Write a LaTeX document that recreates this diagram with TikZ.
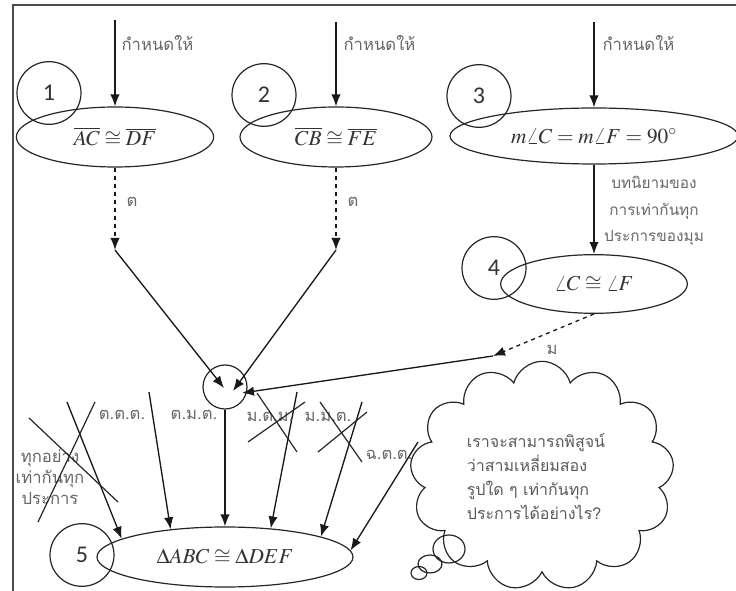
\documentclass[tikz,border=0pt]{standalone}
\usepackage{mathptmx}
\usepackage{fontspec}
\newfontfamily\thaifont[Script=Thai]{Loma}
\newfontfamily\numfont{Carlito}
\usepackage{tikz}
\usetikzlibrary{arrows.meta,shapes.geometric,shapes.symbols}
\tikzstyle{arrow}=[-{Latex[length=9pt,width=7pt]},line width=1pt,draw=black!90]
\tikzstyle{oval}=[draw=black!85,ellipse,line width=.9pt,inner sep=1pt,font=\fontsize{16}{19}\selectfont,text=black!80]
\tikzstyle{numring}=[draw=black!85,ellipse,line width=.9pt,minimum width=48pt,minimum height=47pt,inner sep=0pt,font=\numfont\fontsize{18}{20}\selectfont,text=black!80]
\tikzstyle{thailabel}=[font=\thaifont\fontsize{12.5}{15}\selectfont,text=black!60,inner sep=0pt]
\tikzstyle{cross}=[draw=black!85,line width=.9pt]

\begin{document}
\begin{tikzpicture}[x=.75pt,y=-.75pt,line width=.9pt]
	\useasboundingbox (0,0) rectangle (736,591);

	%frame
	\draw[black!70] (13,591) -- (13,5) -- (736,5);

	%statements
	\node[oval,minimum width=148pt,minimum height=45pt] (e1) at (115,137) {$\overline{AC}\cong\overline{DF}$};
	\node[oval,minimum width=144pt,minimum height=45pt] (e2) at (336,137) {$\overline{CB}\cong\overline{FE}$};
	\node[oval,minimum width=216pt,minimum height=42pt] (e3) at (594,136) {$m\angle C=m\angle F=90^\circ$};
	\node[oval,minimum width=140pt,minimum height=44pt] (e4) at (594,284) {$\angle C\cong\angle F$};
	\node[oval,minimum width=192pt,minimum height=45pt] (e5) at (225,557) {$\Delta ABC\cong\Delta DEF$};

	\node[numring] (n1) at (49,93) {1};
	\node[numring] (n2) at (264,95) {2};
	\node[numring] (n3) at (479,96) {3};
	\node[numring] (n4) at (494,268) {4};
	\node[numring] (n5) at (82,555) {5};
	\node[draw=black!85,circle,minimum size=33pt,inner sep=0pt] (hub) at (225,387) {};

	%given
	\coordinate (g1) at (115,20);
	\coordinate (g2) at (336,22);
	\coordinate (g3) at (594,22);
	\draw[arrow] (g1) -- (e1);
	\draw[arrow] (g2) -- (e2);
	\draw[arrow] (g3) -- (e3);
	\node[thailabel,anchor=west] (l1) at (121,43) {กำหนดให้};
	\node[thailabel,anchor=west] (l2) at (343,43) {กำหนดให้};
	\node[thailabel,anchor=west] (l3) at (602,43) {กำหนดให้};

	\draw[arrow] (e3) -- (e4);
	\node[thailabel,align=center,font=\thaifont\fontsize{11.5}{20}\selectfont] (l4) at (654,211) {บทนิยามของ\\การเท่ากันทุก\\ประการของมุม};

	%to the hub
	\coordinate (d1) at (115,250);
	\coordinate (d2) at (336,250);
	\coordinate (d4) at (493,356);
	\coordinate (h1) at (224,388);
	\coordinate (h2) at (233,391);
	\coordinate (h3) at (242,393);
	\draw[arrow,dashed] (e1) -- (d1);
	\draw[arrow,dashed] (e2) -- (d2);
	\draw[arrow,dashed] (e4.south) -- (d4);
	\draw[arrow] (d1) -- (h1);
	\draw[arrow] (d2) -- (h2);
	\draw[arrow] (d4) -- (h3);
	\node[thailabel] (t1) at (132,202) {ต};
	\node[thailabel] (t2) at (353,202) {ต};
	\node[thailabel] (t4) at (552,350) {ม};

	%conditions
	\coordinate (s1) at (67,402);
	\coordinate (s2) at (149,392);
	\coordinate (s3) at (297,392);
	\coordinate (s4) at (362,402);
	\coordinate (s5) at (418,442);
	\draw[arrow] (s1) -- (e5.170);
	\draw[arrow] (s2) -- (e5.153);
	\draw[arrow] (hub) -- (e5);
	\draw[arrow] (s3) -- (e5.32);
	\draw[arrow] (s4) -- (e5.12);
	\draw[arrow] (s5) -- (e5.3);
	\node[thailabel] (c1) at (122,415) {ต.ต.ต.};
	\node[thailabel] (c2) at (194,415) {ต.ม.ต.};
	\node[thailabel] (c3) at (270,417) {ม.ต.ม.};
	\node[thailabel] (c4) at (328,417) {ม.ม.ต.};
	\node[thailabel] (c5) at (389,455) {ฉ.ต.ต.};
	\node[thailabel,align=center,font=\thaifont\fontsize{12.5}{15.5}\selectfont] (c0) at (50,477) {ทุกอย่าง\\เท่ากันทุก\\ประการ};

	%crossed out
	\draw[cross] (29,418) -- (118,502);
	\draw[cross] (95,402) -- (38,522);
	\draw[cross] (257,393) -- (297,452);
	\draw[cross] (248,442) -- (305,402);
	\draw[cross] (320,402) -- (362,462);
	\draw[cross] (318,452) -- (367,412);

	%thought
	\node[cloud,draw=black!85,cloud puffs=13,aspect=1.15,minimum width=198pt,minimum height=172pt,inner sep=0pt] (cloud) at (542,476) {};
	\node[align=left,font=\thaifont\fontsize{12}{18}\selectfont,text=black!65] (ask) at (536,477) {เราจะสามารถพิสูจน์\\ว่าสามเหลี่ยมสอง\\รูปใด ๆ เท่ากันทุก\\ประการได้อย่างไร?};
	\draw[black!85] (449,549) ellipse (16 and 14);
	\draw[black!85] (430,564) ellipse (12 and 9);
	\draw[black!85] (419,573) ellipse (8 and 6.5);
\end{tikzpicture}
\end{document}
